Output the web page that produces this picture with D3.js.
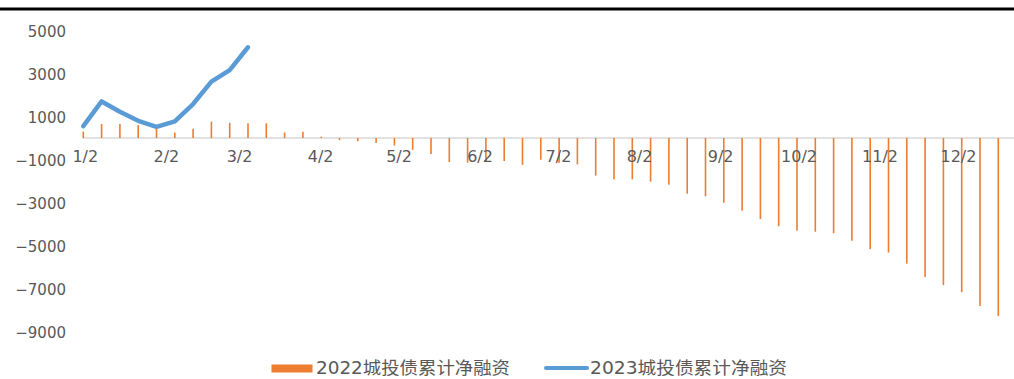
<!DOCTYPE html>
<html>
<head>
<meta charset="utf-8">
<script src="https://cdn.jsdelivr.net/npm/d3@7"></script>
<style>
  body { margin: 0; background: #fff; }
  svg { display: block; }
  .tick text { font-family: "DejaVu Sans", sans-serif; font-size: 15px; fill: #595959; }
  .xaxis .tick text { font-size: 16px; }
</style>
</head>
<body>
<script>
// 2022 城投债累计净融资, weekly from 1/2
const vals2022 = [300, 650, 650, 600, 420, 250, 430, 760, 710, 680,
                  680, 260, 290, 60, -100, -150, -230, -350, -550, -750,
                  -1120, -1150, -1120, -1070, -1250, -1010, -1150, -1230, -1750, -1920,
                  -1920, -2030, -2170, -2590, -2710, -3010, -3380, -3770, -4110, -4310,
                  -4360, -4430, -4780, -5170, -5330, -5840, -6470, -6840, -7170, -7810,
                  -8280]
// 2023 城投债累计净融资
const vals2023 = [550, 1700, 1220, 800, 520, 770, 1580, 2620, 3160, 4220]
const yTicks = [5000, 3000, 1000, -1000, -3000, -5000, -7000, -9000]
const monthLabels = ['1/2', '2/2', '3/2', '4/2', '5/2', '6/2', '7/2', '8/2', '9/2', '10/2', '11/2', '12/2']
const legendNames = ['2022城投债累计净融资', '2023城投债累计净融资']

const width = 1014, height = 379
const start = new Date(2023, 0, 2)
const weekDate = i => d3.timeDay.offset(start, i * 7)
const monthDates = monthLabels.map((l, i) => new Date(2023, i, 2))

const svg = d3.select('body').append('svg')
    .attr('width', width)
    .attr('height', height)

const x = d3.scaleTime()
    .domain([start, weekDate(vals2022.length - 1)])
    .range([83.3, 998.3])
const y = d3.scaleLinear()
    .domain([-9000, 5000])
    .range([331.5, 30.5])

// top border line
svg.append('line')
    .attr('x1', 0).attr('x2', width)
    .attr('y1', 9).attr('y2', 9)
    .style('stroke', '#000')
    .style('stroke-width', 3)

// y axis labels
const yAxis = svg.append('g')
    .attr('transform', 'translate(66,0)')
    .call(d3.axisLeft(y).tickValues(yTicks).tickSize(0).tickPadding(0).tickFormat(d3.format('d')))
yAxis.select('.domain').remove()
yAxis.selectAll('text').attr('dy', '0.42em')

// zero line
svg.append('line')
    .attr('x1', 82.5).attr('x2', width)
    .attr('y1', y(0)).attr('y2', y(0))
    .style('stroke', '#d9d9d9')
    .style('stroke-width', 1.5)

// 2022 bars
svg.selectAll('rect.bar')
    .data(vals2022)
    .enter()
    .append('rect')
    .attr('class', 'bar')
    .attr('x', (d, i) => x(weekDate(i)) - 0.8)
    .attr('width', 1.6)
    .attr('y', d => Math.min(y(d), y(0)))
    .attr('height', d => Math.abs(y(d) - y(0)))
    .style('fill', '#ed7d31')

// x axis labels
const xAxis = svg.append('g')
    .attr('class', 'xaxis')
    .attr('transform', `translate(1.5,${y(0) + 13})`)
    .call(d3.axisBottom(x).tickValues(monthDates).tickSize(0).tickPadding(0)
        .tickFormat((d, i) => monthLabels[i]))
xAxis.select('.domain').remove()

// 2023 line
const line = d3.line()
    .x((d, i) => x(weekDate(i)))
    .y(d => y(d))
svg.append('path')
    .datum(vals2023)
    .attr('d', line)
    .style('fill', 'none')
    .style('stroke', '#5b9bd5')
    .style('stroke-width', 4.5)
    .style('stroke-linejoin', 'round')
    .style('stroke-linecap', 'round')

// legend
const legend = svg.append('g')
legend.append('rect')
    .attr('x', 271.5).attr('y', 364.5)
    .attr('width', 41).attr('height', 8)
    .style('fill', '#ed7d31')
legend.append('line')
    .attr('x1', 546).attr('x2', 587)
    .attr('y1', 368).attr('y2', 368)
    .style('stroke', '#5b9bd5')
    .style('stroke-width', 4)
    .style('stroke-linecap', 'round')
legend.selectAll('text')
    .data(legendNames)
    .enter()
    .append('text')
    .attr('x', (d, i) => i == 0 ? 316 : 590)
    .attr('y', 374)
    .attr('textLength', (d, i) => i == 0 ? 194 : 197)
    .attr('lengthAdjust', 'spacingAndGlyphs')
    .style('font-family', '"DejaVu Sans", "Noto Sans CJK SC", sans-serif')
    .style('font-size', '17px')
    .style('fill', '#595959')
    .text(d => d)
</script>
</body>
</html>
